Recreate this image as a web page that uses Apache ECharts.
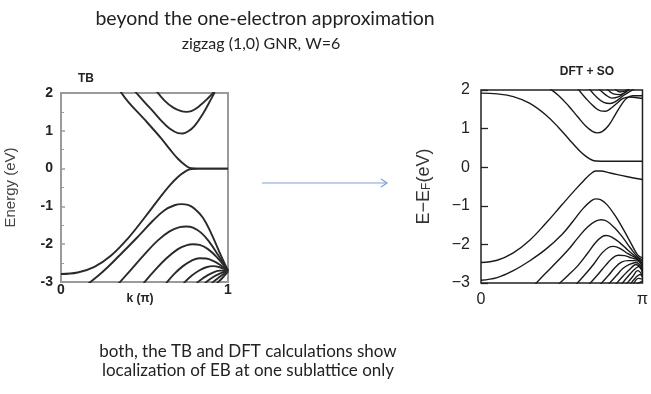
<!DOCTYPE html>
<html><head><meta charset="utf-8">
<script src="https://cdn.jsdelivr.net/npm/echarts@6/dist/echarts.min.js"></script>
<style>html,body{margin:0;padding:0;background:#fff}#c{width:651px;height:394px}</style>
</head><body><div id="c"></div>
<script>
// ---- tick labels ----
const TB_X_LABELS = ['0', '1'];
const DFT_X_LABELS = ['0', 'π'];
const Y_TICKS = [2, 1, 0, -1, -2, -3];

// ---- TB bands: [k (units of π), E (eV)] ----
const TB_V1 = [[0,-2.79],[0.1,-2.75],[0.2,-2.6],[0.3,-2.3],[0.4,-1.85],[0.5,-1.3],[0.6,-0.72],[0.65,-0.45],[0.7,-0.22],[0.75,-0.06],[0.78,-0.01],[0.82,0],[1,0]];
const TB_C1 = [[0.35,2.08],[0.4,1.78],[0.5,1.3],[0.6,0.8],[0.65,0.52],[0.7,0.26],[0.75,0.07],[0.78,0.01],[0.82,0],[1,0]];
const TB_C2 = [[0.44,2.06],[0.5,1.76],[0.55,1.52],[0.6,1.27],[0.65,1.06],[0.7,0.94],[0.73,0.93],[0.76,0.98],[0.8,1.13],[0.85,1.45],[0.9,1.85],[0.92,2.02]];
const TB_C3 = [[0.57,2.06],[0.62,1.8],[0.67,1.62],[0.72,1.52],[0.75,1.5],[0.78,1.52],[0.83,1.66],[0.88,1.86],[0.92,2.05]];
const TB_V2 = [[0.165,-3.04],[0.25,-2.73],[0.35,-2.3],[0.45,-1.85],[0.55,-1.38],[0.62,-1.1],[0.68,-0.97],[0.72,-0.94],[0.76,-0.96],[0.8,-1.06],[0.85,-1.3],[0.9,-1.72],[0.95,-2.22],[1,-2.7]];
const TB_V3 = [[0.345,-3.04],[0.42,-2.67],[0.5,-2.27],[0.58,-1.9],[0.65,-1.66],[0.71,-1.55],[0.75,-1.53],[0.79,-1.56],[0.84,-1.7],[0.89,-1.95],[0.94,-2.28],[1,-2.7]];
const TB_V4 = [[0.495,-3.03],[0.56,-2.7],[0.63,-2.38],[0.7,-2.13],[0.75,-2.03],[0.79,-2.0],[0.83,-2.02],[0.88,-2.13],[0.93,-2.33],[1,-2.7]];
const TB_V5 = [[0.63,-3.03],[0.68,-2.78],[0.73,-2.58],[0.78,-2.44],[0.83,-2.37],[0.87,-2.38],[0.92,-2.46],[0.96,-2.57],[1,-2.7]];
const TB_V6 = [[0.735,-3.03],[0.78,-2.84],[0.83,-2.69],[0.87,-2.61],[0.91,-2.58],[0.95,-2.61],[1,-2.7]];
const TB_V7 = [[0.812,-3.03],[0.85,-2.9],[0.9,-2.77],[0.95,-2.7],[1,-2.7]];
const TB_V8 = [[0.862,-3.03],[0.9,-2.9],[0.95,-2.78],[1,-2.7]];
const TB_V9 = [[0.902,-3.03],[0.94,-2.9],[0.97,-2.8],[1,-2.7]];
const TB_V10 = [[0.933,-3.03],[0.965,-2.9],[1,-2.72]];

// ---- DFT + SO bands ----
const DFT_C1 = [[0,1.92],[0.1,1.9],[0.2,1.83],[0.3,1.66],[0.4,1.36],[0.48,1.03],[0.55,0.7],[0.6,0.47],[0.65,0.28],[0.69,0.18],[0.72,0.16],[0.76,0.155],[1,0.155]];
const DFT_V1 = [[0,-2.47],[0.1,-2.41],[0.2,-2.22],[0.3,-1.9],[0.4,-1.46],[0.5,-0.98],[0.58,-0.6],[0.64,-0.33],[0.68,-0.17],[0.71,-0.1],[0.74,-0.1],[0.8,-0.15],[0.9,-0.24],[1,-0.32]];
const DFT_C2 = [[0.428,2.03],[0.48,1.86],[0.54,1.6],[0.6,1.3],[0.65,1.06],[0.69,0.93],[0.72,0.89],[0.75,0.92],[0.79,1.08],[0.83,1.35],[0.87,1.62],[0.9,1.78],[0.94,1.85],[1,1.85]];
const DFT_C3 = [[0.6,2.03],[0.65,1.78],[0.7,1.57],[0.74,1.46],[0.77,1.45],[0.8,1.51],[0.84,1.65],[0.88,1.78],[0.92,1.82],[1,1.78]];
const DFT_C4 = [[0.67,2.03],[0.72,1.8],[0.76,1.68],[0.8,1.65],[0.84,1.72],[0.88,1.85],[0.92,1.96],[0.95,2.03]];
const DFT_C5 = [[0.73,2.03],[0.77,1.88],[0.81,1.79],[0.85,1.82],[0.89,1.93],[0.92,2.03]];
const DFT_C6 = [[0.78,2.03],[0.82,1.9],[0.86,1.88],[0.9,1.96],[0.92,2.03]];
const DFT_C7 = [[0.83,2.03],[0.86,1.95],[0.89,1.97],[0.91,2.03]];
const DFT_V2 = [[0,-2.93],[0.1,-2.86],[0.2,-2.68],[0.3,-2.43],[0.4,-2.13],[0.5,-1.75],[0.57,-1.4],[0.63,-1.08],[0.68,-0.88],[0.71,-0.82],[0.74,-0.84],[0.78,-0.97],[0.83,-1.25],[0.88,-1.6],[0.93,-1.98],[0.97,-2.27],[1,-2.35]];
const DFT_V3 = [[0.335,-3.03],[0.4,-2.75],[0.47,-2.45],[0.54,-2.14],[0.6,-1.83],[0.66,-1.55],[0.71,-1.4],[0.745,-1.36],[0.78,-1.4],[0.83,-1.58],[0.88,-1.83],[0.93,-2.12],[0.97,-2.32],[1,-2.4]];
const DFT_V4 = [[0.48,-3.03],[0.54,-2.8],[0.6,-2.55],[0.66,-2.23],[0.71,-1.95],[0.75,-1.8],[0.775,-1.77],[0.81,-1.81],[0.86,-1.96],[0.91,-2.15],[0.96,-2.32],[1,-2.45]];
const DFT_V5 = [[0.59,-3.03],[0.64,-2.8],[0.7,-2.5],[0.75,-2.22],[0.79,-2.08],[0.82,-2.05],[0.86,-2.1],[0.91,-2.24],[0.96,-2.35],[1,-2.5]];
const DFT_V6 = [[0.67,-3.03],[0.72,-2.8],[0.77,-2.55],[0.81,-2.37],[0.85,-2.28],[0.89,-2.29],[0.93,-2.35],[0.97,-2.4],[1,-2.55]];
const DFT_V7 = [[0.74,-3.03],[0.79,-2.8],[0.83,-2.6],[0.87,-2.46],[0.91,-2.42],[0.95,-2.42],[0.98,-2.45],[1,-2.6]];
const DFT_V8 = [[0.79,-3.03],[0.84,-2.8],[0.88,-2.62],[0.92,-2.52],[0.96,-2.47],[1,-2.65]];
const DFT_V9 = [[0.835,-3.03],[0.88,-2.82],[0.92,-2.65],[0.96,-2.52],[1,-2.7]];
const DFT_V10 = [[0.87,-3.03],[0.91,-2.83],[0.95,-2.65],[0.98,-2.57],[1,-2.75]];
const DFT_V11 = [[0.9,-3.03],[0.94,-2.83],[0.97,-2.68],[1,-2.8]];
const DFT_V12 = [[0.925,-3.03],[0.96,-2.85],[0.985,-2.78],[1,-2.85]];
const DFT_V13 = [[0.945,-3.03],[0.975,-2.88],[1,-2.9]];
const DFT_V14 = [[0.962,-3.03],[1,-2.95]];

const TB_BANDS = [TB_V1,TB_C1,TB_C2,TB_C3,TB_V2,TB_V3,TB_V4,TB_V5,TB_V6,TB_V7,TB_V8,TB_V9,TB_V10];
const DFT_BANDS = [DFT_C1,DFT_V1,DFT_C2,DFT_C3,DFT_C4,DFT_C5,DFT_C6,DFT_C7,DFT_V2,DFT_V3,DFT_V4,DFT_V5,DFT_V6,DFT_V7,DFT_V8,DFT_V9,DFT_V10,DFT_V11,DFT_V12,DFT_V13,DFT_V14];

const chart = echarts.init(document.getElementById('c'), null, {renderer: 'canvas'});
const series = [];
TB_BANDS.forEach(b => series.push({type:'line', xAxisIndex:0, yAxisIndex:0, data:b, showSymbol:false, smooth:0.4, clip:true, silent:true, lineStyle:{color:'#2a2a2a', width:1.9}}));
DFT_BANDS.forEach(b => series.push({type:'line', xAxisIndex:1, yAxisIndex:1, data:b, showSymbol:false, smooth:0.4, clip:true, silent:true, lineStyle:{color:'#1a1a1a', width:1.4}}));

const arrowY = 183;
chart.setOption({
  animation: false,
  backgroundColor: '#fff',
  grid: [
    {left: 61, right: 423, top: 93, bottom: 112, show: true, borderColor: '#9a9a9a', borderWidth: 2, backgroundColor: 'transparent'},
    {left: 481, right: 1, top: 90, bottom: 111, show: true, borderColor: '#222', borderWidth: 1.5, backgroundColor: 'transparent'}
  ],
  xAxis: [
    {gridIndex:0, type:'value', min:0, max:1, interval:1,
     axisLine:{show:false}, axisTick:{show:false}, splitLine:{show:false},
     axisLabel:{margin:1, fontFamily:'Liberation Sans', fontWeight:'bold', fontSize:14, color:'#222', formatter:v => TB_X_LABELS[Math.round(v)]}},
    {gridIndex:1, type:'value', min:0, max:1, interval:1,
     axisLine:{show:false}, axisTick:{show:false}, splitLine:{show:false},
     axisLabel:{margin:9, fontFamily:'Liberation Sans', fontSize:16, color:'#222', formatter:v => DFT_X_LABELS[Math.round(v)]}}
  ],
  yAxis: [
    {gridIndex:0, type:'value', min:-3, max:2, interval:1,
     axisLine:{show:false}, splitLine:{show:false},
     axisTick:{show:true, inside:true, length:4, lineStyle:{color:'#9a9a9a', width:1.5}},
     minorTick:{show:true, splitNumber:2, length:3, lineStyle:{color:'#9a9a9a'}},
     axisLabel:{margin:8, fontFamily:'Liberation Sans', fontWeight:'bold', fontSize:14, color:'#222', formatter:v => String(Y_TICKS[Y_TICKS.indexOf(v)])},
     name:'Energy (eV)', nameLocation:'middle', nameGap:43, nameRotate:90,
     nameTextStyle:{fontFamily:'Liberation Sans', fontSize:15, color:'#444'}},
    {gridIndex:1, type:'value', min:-3, max:2, interval:1,
     axisLine:{show:false}, splitLine:{show:false},
     axisTick:{show:true, inside:true, length:7, lineStyle:{color:'#222', width:1.3}},
     axisLabel:{margin:11, fontFamily:'Liberation Sans', fontSize:16, color:'#222', formatter:v => String(Y_TICKS[Y_TICKS.indexOf(v)]).replace('-', '\u2212')},
     name:'{a|E\u2212E}{s|F}{a|(eV)}', nameLocation:'middle', nameGap:48, nameRotate:90,
     nameTextStyle:{rich:{a:{fontFamily:'Liberation Sans', fontSize:18, color:'#333'}, s:{fontFamily:'Liberation Sans', fontSize:12, color:'#333', verticalAlign:'bottom', padding:[6,0,0,0]}}}}
  ],
  graphic: [
    {type:'text', style:{text:'beyond the one-electron approximation', x:265, y:19, align:'center', verticalAlign:'middle', font:'19.5px Lato', fill:'#222'}},
    {type:'text', style:{text:'zigzag (1,0) GNR, W=6', x:261, y:44, align:'center', verticalAlign:'middle', font:'16px Lato', fill:'#222'}},
    {type:'text', style:{text:'TB', x:86, y:79, align:'center', verticalAlign:'middle', font:'bold 12px "Liberation Sans"', fill:'#222'}},
    {type:'text', style:{text:'DFT + SO', x:587, y:72, align:'center', verticalAlign:'middle', font:'bold 12px "Liberation Sans"', fill:'#222'}},
    {type:'text', style:{text:'k (π)', x:140, y:299, align:'center', verticalAlign:'middle', font:'bold 12px "Liberation Sans"', fill:'#222'}},
    {type:'text', style:{text:'both, the TB and DFT calculations show', x:248, y:352, align:'center', verticalAlign:'middle', font:'17px Lato', fill:'#222'}},
    {type:'text', style:{text:'localization of EB at one sublattice only', x:248, y:371, align:'center', verticalAlign:'middle', font:'17px Lato', fill:'#222'}},
    {type:'line', shape:{x1:262, y1:arrowY, x2:387, y2:arrowY}, style:{stroke:'#7f9fd6', lineWidth:1.2}},
    {type:'polyline', shape:{points:[[381,arrowY-4],[387,arrowY],[381,arrowY+4]]}, style:{stroke:'#7f9fd6', lineWidth:1.2, fill:null}}
  ],
  series: series
});
</script></body></html>
